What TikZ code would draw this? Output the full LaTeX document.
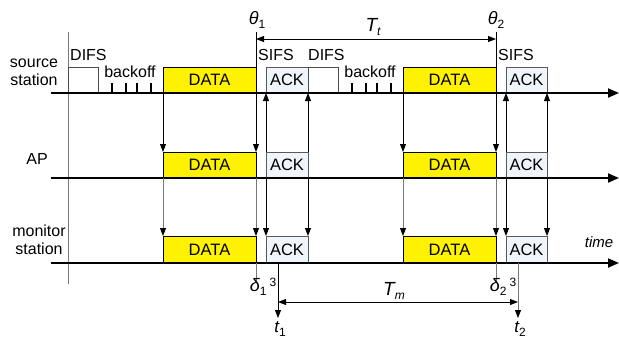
\documentclass[tikz,border=0pt]{standalone}
\usepackage{fontspec}
\setmainfont{Liberation Sans}
\usetikzlibrary{arrows.meta}
\definecolor{ackfill}{RGB}{240,244,251}
\definecolor{lgray}{RGB}{120,120,120}
\newcommand\mysub[1]{\raisebox{-4pt}{\fontsize{12}{12}\selectfont #1}}
\newcommand\mysup[1]{\raisebox{5pt}{\fontsize{12}{12}\selectfont #1}}
\begin{document}
\begin{tikzpicture}[x=1pt,y=-1pt,
  box/.style={draw, line width=0.8pt, inner sep=0pt, outer sep=0pt, minimum height=26pt, anchor=south west, font=\fontsize{16.5}{18}\selectfont},
  databox/.style={box, fill=yellow, draw=black},
  ackbox/.style={box, fill=ackfill, draw=black!65},
  difsbox/.style={box, fill=white, draw=black!70},
  axisline/.style={line width=2pt, -{Triangle[length=11pt,width=9pt]}},
  vline/.style={line width=0.9pt},
  arr/.style={vline, -{Triangle[length=8pt,width=6pt]}},
  garr/.style={vline, draw=lgray, -{Triangle[length=8pt,width=6pt,color=black]}},
  dimarr/.style={line width=0.9pt, {Triangle[length=8pt,width=6pt]}-{Triangle[length=8pt,width=6pt]}},
  lbl/.style={font=\fontsize{16}{18}\selectfont, inner sep=0pt},
  ticks/.style={line width=1.2pt}
]
\useasboundingbox (0,0) rectangle (619,338);

% left vertical reference line
\coordinate (lv1) at (68,32);
\coordinate (lv2) at (68,284);
\draw[vline, lgray] (lv1) -- (lv2);

% ---- source station boxes
\node[difsbox, minimum width=30pt] (sF1) at (68,93) {};
\node[databox, minimum width=93pt] (sD1) at (163,93) {DATA};
\node[ackbox, minimum width=42pt] (sA1) at (266,93) {ACK};
\node[difsbox, minimum width=30pt] (sF2) at (308,93) {};
\node[databox, minimum width=93pt] (sD2) at (403,93) {DATA};
\node[ackbox, minimum width=41pt] (sA2) at (506,93) {ACK};

% ---- AP boxes
\node[databox, minimum width=93pt] (aD1) at (163,178) {DATA};
\node[ackbox, minimum width=42pt] (aA1) at (266,178) {ACK};
\node[databox, minimum width=93pt] (aD2) at (403,178) {DATA};
\node[ackbox, minimum width=41pt] (aA2) at (506,178) {ACK};

% ---- monitor boxes
\node[databox, minimum width=93pt, minimum height=27pt] (mD1) at (163,263) {DATA};
\node[ackbox, minimum width=42pt, minimum height=27pt] (mA1) at (266,263) {ACK};
\node[databox, minimum width=93pt, minimum height=27pt] (mD2) at (403,263) {DATA};
\node[ackbox, minimum width=41pt, minimum height=27pt] (mA2) at (506,263) {ACK};

% backoff ticks
\foreach \x in {112,126,137,151,352,366,377,391}
  \draw[ticks] (\x,83) -- (\x,93);

% axes
\coordinate (s0) at (51,93);  \coordinate (s1) at (619,93);
\coordinate (a0) at (51,178); \coordinate (a1) at (619,178);
\coordinate (m0) at (51,263); \coordinate (m1) at (619,263);
\draw[axisline] (s0) -- (s1);
\draw[axisline] (a0) -- (a1);
\draw[axisline] (m0) -- (m1);

% ---- first exchange
\draw[arr] (sD1.south west) -- (aD1.north west);
\draw[garr] (aD1.south west) -- (mD1.north west);
\coordinate (th1) at (256,32);
\draw[arr] (th1) -- (aD1.north east);
\draw[garr] (aD1.south east) -- (mD1.north east);
\coordinate (d1) at (256,281);
\draw[vline, lgray] (mD1.south east) -- (d1);
\draw[arr] (aA1.north west) -- (sA1.south west);
\draw[arr] (aA1.south west) -- (mA1.north west);
\draw[arr] (aA1.north east) -- (sA1.south east);
\draw[arr] (aA1.south east) -- (mA1.north east);
\coordinate (t1a) at (278,263);
\coordinate (t1b) at (278,318);
\draw[arr] (t1a) -- (t1b);

% ---- second exchange
\draw[arr] (sD2.south west) -- (aD2.north west);
\draw[garr] (aD2.south west) -- (mD2.north west);
\coordinate (th2) at (496,32);
\draw[arr] (th2) -- (aD2.north east);
\draw[garr] (aD2.south east) -- (mD2.north east);
\coordinate (d2) at (496,281);
\draw[vline, lgray] (mD2.south east) -- (d2);
\draw[arr] (aA2.north west) -- (sA2.south west);
\draw[arr] (aA2.south west) -- (mA2.north west);
\draw[arr] (aA2.north east) -- (sA2.south east);
\draw[arr] (aA2.south east) -- (mA2.north east);
\coordinate (t2a) at (518,263);
\coordinate (t2b) at (518,318);
\draw[garr] (t2a) -- (t2b);

% ---- interval arrows
\coordinate (tt1) at (256,39); \coordinate (tt2) at (496,39);
\draw[dimarr] (tt1) -- (tt2);
\coordinate (tm1) at (278,302); \coordinate (tm2) at (518,302);
\draw[dimarr] (tm1) -- (tm2);

% ---- labels
\node[lbl, align=center] (lsrc) at (34,72) {source\\station};
\node[lbl] (lap) at (37,159) {AP};
\node[lbl, align=center] (lmon) at (39,240) {monitor\\station};
\node[lbl, anchor=west] (ldifs1) at (70,55) {DIFS};
\node[lbl] (lbo1) at (130,72) {backoff};
\node[lbl, anchor=west] (lsifs1) at (258,55) {SIFS};
\node[lbl, anchor=west] (ldifs2) at (308,55) {DIFS};
\node[lbl] (lbo2) at (370,72) {backoff};
\node[lbl, anchor=west] (lsifs2) at (498,55) {SIFS};
\node[lbl] (lth1) at (257,20) {\fontsize{18}{20}\selectfont\itshape θ\mysub{\upshape 1}};
\node[lbl] (lth2) at (496,20) {\fontsize{18}{20}\selectfont\itshape θ\mysub{\upshape 2}};
\node[lbl] (lTt) at (373,27) {\fontsize{19}{20}\selectfont\itshape T\mysub{t}};
\node[lbl] (ld1) at (263,287) {\fontsize{18}{20}\selectfont\itshape δ\mysub{\upshape 1}\,\mysup{\upshape 3}};
\node[lbl] (ld2) at (503,287) {\fontsize{18}{20}\selectfont\itshape δ\mysub{\upshape 2}\,\mysup{\upshape 3}};
\node[lbl] (lTm) at (394,291) {\fontsize{19}{20}\selectfont\itshape T\mysub{m}};
\node[lbl, anchor=south] (lt1) at (280,337) {\fontsize{17}{18}\selectfont\itshape t\mysub{\upshape 1}};
\node[lbl, anchor=south] (lt2) at (520,337) {\fontsize{17}{18}\selectfont\itshape t\mysub{\upshape 2}};
\node[lbl] (ltime) at (599,242) {\fontsize{15}{17}\selectfont\itshape time};
\end{tikzpicture}
\end{document}
